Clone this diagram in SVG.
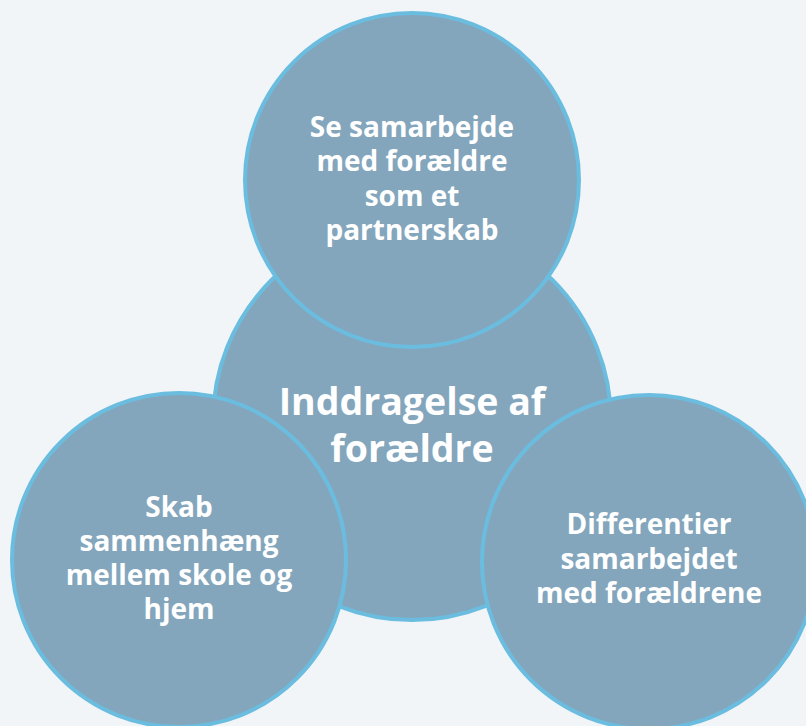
<svg xmlns="http://www.w3.org/2000/svg" width="806" height="726" viewBox="0 0 806 726">
<style>
.c{fill:#83a6bd;stroke:#6bbde0;stroke-width:4}
.t{font-family:"Open Sans","Noto Sans","Liberation Sans",sans-serif;font-weight:700;fill:#ffffff;text-anchor:middle}
.s{font-size:28px}
.b{font-size:37.5px}
</style>
<rect width="806" height="726" fill="#f2f5f8"/>
<g id="connectors"></g>
<g id="center">
<circle class="c" cx="412" cy="421" r="199"/>
<text class="t b" x="412" y="415">Inddragelse af</text>
<text class="t b" x="412" y="462">forældre</text>
</g>
<g id="top">
<circle class="c" cx="412" cy="180" r="167"/>
<text class="t s" x="412" y="137">Se samarbejde</text>
<text class="t s" x="412" y="171">med forældre</text>
<text class="t s" x="412" y="206">som et</text>
<text class="t s" x="412" y="240">partnerskab</text>
</g>
<g id="left">
<circle class="c" cx="179" cy="560" r="167"/>
<text class="t s" x="179" y="517">Skab</text>
<text class="t s" x="179" y="551">sammenhæng</text>
<text class="t s" x="179" y="585">mellem skole og</text>
<text class="t s" x="179" y="619">hjem</text>
</g>
<g id="right">
<circle class="c" cx="649" cy="562" r="167"/>
<text class="t s" x="649" y="534">Differentier</text>
<text class="t s" x="649" y="569">samarbejdet</text>
<text class="t s" x="649" y="603">med forældrene</text>
</g>
</svg>
